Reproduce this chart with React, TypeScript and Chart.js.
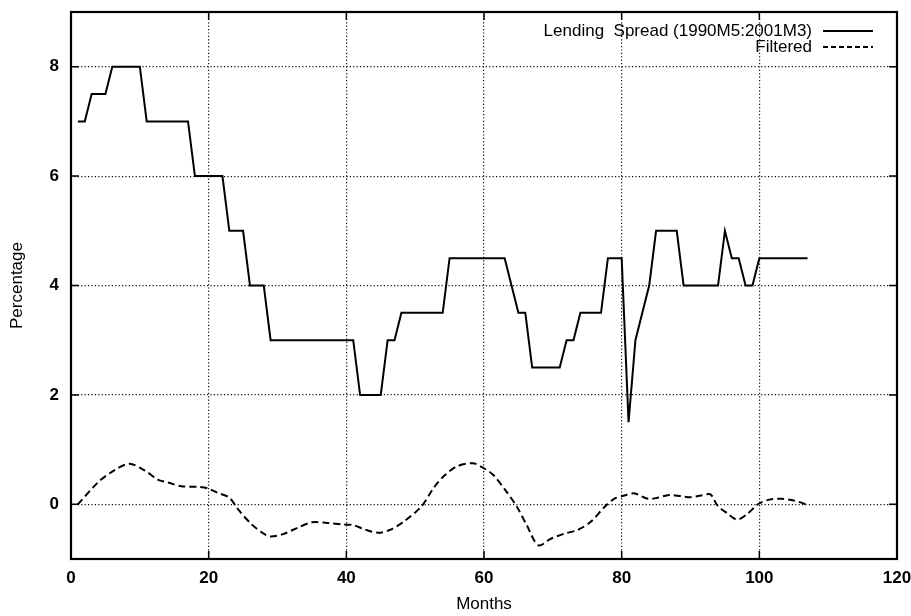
import React, { useEffect, useRef } from 'react';
import { Chart, registerables } from 'chart.js';

Chart.register(...registerables);

// Lending spread, monthly observations (month 1..107)
const spreadValues = [
  7, 7,
  7.5, 7.5, 7.5,
  8, 8, 8, 8, 8,
  7, 7, 7, 7, 7, 7, 7,
  6, 6, 6, 6, 6,
  5, 5, 5,
  4, 4, 4,
  3, 3, 3, 3, 3, 3, 3, 3, 3, 3, 3, 3, 3,
  2, 2, 2, 2,
  3, 3,
  3.5, 3.5, 3.5, 3.5, 3.5, 3.5, 3.5,
  4.5, 4.5, 4.5, 4.5, 4.5, 4.5, 4.5, 4.5, 4.5,
  4,
  3.5, 3.5,
  2.5, 2.5, 2.5, 2.5, 2.5,
  3, 3,
  3.5, 3.5, 3.5, 3.5,
  4.5, 4.5, 4.5,
  1.5,
  3,
  3.5,
  4,
  5, 5, 5, 5,
  4, 4, 4, 4, 4, 4,
  5,
  4.5, 4.5,
  4, 4,
  4.5, 4.5, 4.5, 4.5, 4.5, 4.5, 4.5, 4.5,
];
const spreadMonths = spreadValues.map((_, i) => i + 1);

// Filtered series
const filteredMonths = [
  1.0, 4.0, 6.4, 8.5, 10.7, 12.6, 14.1, 16.0, 18.4, 19.9, 21.3, 23.0, 24.2, 26.1,
  27.8, 29.0, 30.9, 32.9, 35.0, 37.2, 39.6, 41.0, 42.7, 44.6, 46.3, 48.3, 50.9,
  52.8, 54.3, 56.0, 58.4, 60.1, 61.4, 63.1, 64.8, 66.2, 67.9, 69.7, 71.6, 73.6,
  75.5, 77.5, 78.9, 80.4, 81.8, 83.8, 85.2, 86.9, 88.6, 90.0, 91.5, 92.9, 93.9,
  95.4, 96.8, 98.3, 99.9, 101.6, 103.3, 105.0, 107.0,
];
const filteredValues = [
  0.0, 0.41, 0.63, 0.74, 0.62, 0.45, 0.4, 0.33, 0.32, 0.29, 0.21, 0.12, -0.08, -0.35,
  -0.52, -0.59, -0.54, -0.43, -0.33, -0.34, -0.37, -0.38, -0.46, -0.52, -0.47, -0.32, -0.04,
  0.32, 0.53, 0.69, 0.75, 0.65, 0.53, 0.26, -0.05, -0.38, -0.75, -0.63, -0.54, -0.47,
  -0.32, -0.05, 0.1, 0.16, 0.2, 0.1, 0.12, 0.17, 0.15, 0.13, 0.16, 0.18, -0.02,
  -0.17, -0.28, -0.17, 0.01, 0.09, 0.1, 0.07, -0.01,
];

const xTicks = [0, 20, 40, 60, 80, 100, 120];
const yTicks = [0, 2, 4, 6, 8];
const seriesLabels = ['Lending  Spread (1990M5:2001M3)', 'Filtered'];
const xTitle = 'Months';
const yTitle = 'Percentage';

const FONT = '"Liberation Sans", Arial, Helvetica, sans-serif';

const framePlugin = {
  id: 'gnuFrame',
  afterDraw(chart: any) {
    const { ctx, chartArea, scales } = chart;
    const { left, right, top, bottom } = chartArea;
    const xs = scales.x;
    const ys = scales.y;
    ctx.save();
    ctx.setLineDash([]);
    ctx.strokeStyle = '#000';
    ctx.lineWidth = 1.5;
    ctx.beginPath();
    xTicks.forEach((v) => {
      const px = xs.getPixelForValue(v);
      ctx.moveTo(px, bottom);
      ctx.lineTo(px, bottom - 8);
      ctx.moveTo(px, top);
      ctx.lineTo(px, top + 8);
    });
    yTicks.forEach((v) => {
      const py = ys.getPixelForValue(v);
      ctx.moveTo(left, py);
      ctx.lineTo(left + 8, py);
      ctx.moveTo(right, py);
      ctx.lineTo(right - 8, py);
    });
    ctx.stroke();
    ctx.lineWidth = 2.2;
    ctx.strokeRect(left, top, right - left, bottom - top);

    // gnuplot-style legend
    ctx.font = `17px ${FONT}`;
    ctx.fillStyle = '#000';
    ctx.textAlign = 'right';
    ctx.textBaseline = 'middle';
    const ds = chart.data.datasets;
    ds.forEach((d: any, i: number) => {
      const y = top + 19 + i * 16;
      ctx.fillText(d.label, right - 85, y);
      ctx.beginPath();
      ctx.lineWidth = 1.8;
      ctx.setLineDash(i === 0 ? [] : [5, 3]);
      ctx.moveTo(right - 74, y);
      ctx.lineTo(right - 24, y);
      ctx.stroke();
    });
    ctx.restore();
  },
};

export default function App() {
  const ref = useRef<HTMLCanvasElement | null>(null);

  useEffect(() => {
    document.body.style.margin = '0';
    document.documentElement.style.overflow = 'hidden';
    const canvas = ref.current;
    if (!canvas) return;
    const gridColor = (ctx: any) => {
      const v = ctx.tick ? ctx.tick.value : null;
      if (ctx.scale.axis === 'x' && (v === 0 || v === 120)) return 'rgba(0,0,0,0)';
      return '#111';
    };
    const chart = new Chart(canvas, {
      type: 'line',
      data: {
        datasets: [
          {
            label: seriesLabels[0],
            data: spreadMonths.map((m, i) => ({ x: m, y: spreadValues[i] })),
            borderColor: '#000',
            borderWidth: 2,
            pointRadius: 0,
            tension: 0,
            fill: false,
          },
          {
            label: seriesLabels[1],
            data: filteredMonths.map((m, i) => ({ x: m, y: filteredValues[i] })),
            borderColor: '#000',
            borderWidth: 2,
            borderDash: [7, 4],
            pointRadius: 0,
            tension: 0.3,
            fill: false,
          },
        ],
      },
      options: {
        animation: false,
        responsive: false,
        devicePixelRatio: 1,
        layout: { padding: { left: 0, top: 12, right: 14, bottom: 0 } },
        plugins: {
          legend: { display: false },
          tooltip: { enabled: false },
        },
        scales: {
          x: {
            type: 'linear',
            min: 0,
            max: 120,
            afterBuildTicks: (s: any) => {
              s.ticks = xTicks.map((v) => ({ value: v }));
            },
            afterFit: (s: any) => {
              s.height = 57;
              s.paddingLeft = 0;
              s.paddingRight = 0;
            },
            ticks: {
              color: '#000',
              padding: 9,
              font: { family: FONT, size: 17, weight: 'bold' },
              maxRotation: 0,
              autoSkip: false,
            },
            grid: { color: gridColor, lineWidth: 1.2, drawTicks: false },
            border: { display: false, dash: [1.2, 2.2] },
            title: {
              display: true,
              text: xTitle,
              color: '#000',
              font: { family: FONT, size: 17 },
              padding: { top: 0, bottom: 1 },
            },
          },
          y: {
            type: 'linear',
            min: -1,
            max: 9,
            afterBuildTicks: (s: any) => {
              s.ticks = yTicks.map((v) => ({ value: v }));
            },
            afterFit: (s: any) => {
              s.width = 71;
              s.paddingTop = 0;
              s.paddingBottom = 0;
            },
            ticks: {
              color: '#000',
              padding: 12,
              font: { family: FONT, size: 17, weight: 'bold' },
            },
            grid: { color: gridColor, lineWidth: 1.2, drawTicks: false },
            border: { display: false, dash: [1.2, 2.2] },
            title: {
              display: true,
              text: yTitle,
              color: '#000',
              font: { family: FONT, size: 17 },
              padding: { top: 7, bottom: 0 },
            },
          },
        },
      },
      plugins: [framePlugin],
    } as any);
    return () => chart.destroy();
  }, []);

  return (
    <canvas
      ref={ref}
      width={911}
      height={616}
      style={{ display: 'block', width: 911, height: 616 }}
    />
  );
}
